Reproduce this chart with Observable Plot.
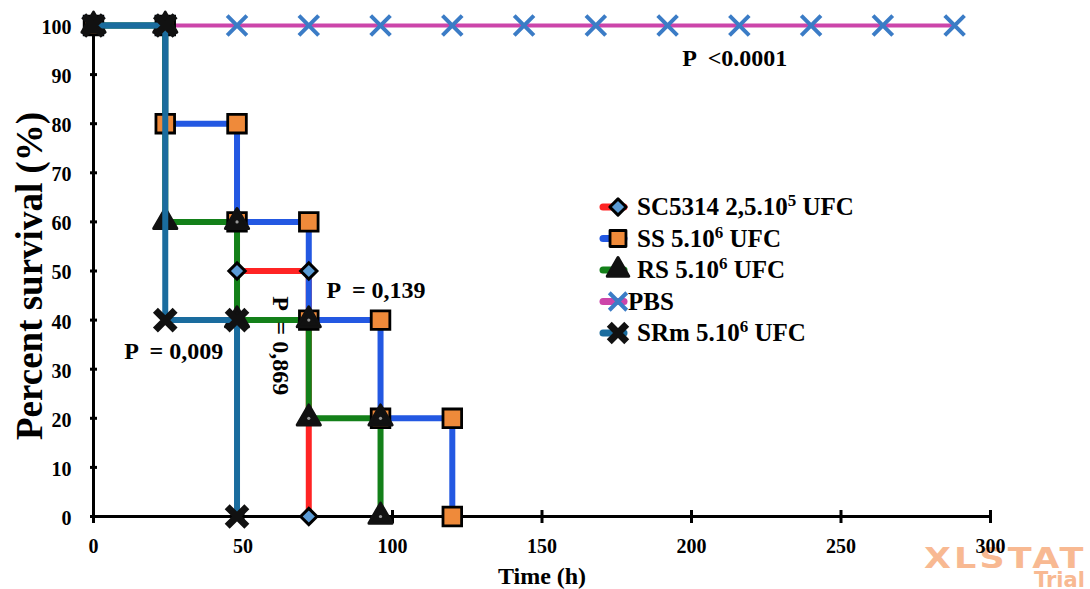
<!DOCTYPE html>
<html>
<head>
<meta charset="utf-8">
<script src="https://cdn.jsdelivr.net/npm/d3@7"></script>
<script src="https://cdn.jsdelivr.net/npm/@observablehq/plot@0.6"></script>
<style>
  html, body { margin: 0; padding: 0; background: #fff; }
  #chart svg { display: block; }
</style>
</head>
<body>
<div id="chart"></div>
<script>
// ---------- data ----------
const xTicks = [0, 50, 100, 150, 200, 250, 300];
const yTicks = [0, 10, 20, 30, 40, 50, 60, 70, 80, 90, 100];

const seriesNames = ["SC5314", "SS", "RS", "PBS", "SRm"];
const seriesColors = ["#ff2424", "#2358e2", "#138019", "#cc45aa", "#1a6c9e"];

const scTimes = [48, 72];
const scSurv = [50, 0];
const ssTimes = [0, 24, 48, 72, 96, 120];
const ssSurv = [100, 80, 60, 40, 20, 0];
const rsTimes = [0, 24, 48, 72, 96];
const rsSurv = [100, 60, 40, 20, 0];
const pbsTimes = [0, 24, 48, 72, 96, 120, 144, 168, 192, 216, 240, 264, 288];
const pbsSurv = [100, 100, 100, 100, 100, 100, 100, 100, 100, 100, 100, 100, 100];
const srmTimes = [0, 24, 48];
const srmSurv = [100, 40, 0];

const legendLabels = [
  ["SC5314 2,5.10", "5", " UFC"],
  ["SS 5.10", "6", " UFC"],
  ["RS 5.10", "6", " UFC"],
  ["PBS", "", ""],
  ["SRm 5.10", "6", " UFC"]
];

const annotations = [
  {text: "P  <0.0001", x: 214.5, y: 93.3, rotate: 0},
  {text: "P  = 0,139", x: 94.5, y: 46, rotate: 0},
  {text: "P  = 0,009", x: 26.8, y: 33.6, rotate: 0},
  {text: "P  = 0,869", x: 62.5, y: 34.8, rotate: 90}
];

// ---------- helpers ----------
function corners(times, surv) {
  const pts = [];
  for (let i = 0; i < times.length; i++) {
    pts.push({t: times[i], s: surv[i]});
    if (i < times.length - 1 && times[i + 1] !== times[i]) pts.push({t: times[i + 1], s: surv[i]});
  }
  return pts.filter((p, i, a) => i === 0 || p.t !== a[i - 1].t || p.s !== a[i - 1].s);
}
const sc = corners(scTimes, scSurv);
const ss = corners(ssTimes, ssSurv);
const rs = corners(rsTimes, rsSurv);
const pbs = corners(pbsTimes, pbsSurv);
const pbsPts = pbsTimes.map((t, i) => ({t, s: pbsSurv[i]}));
const srm = corners(srmTimes, srmSurv);

const diamond = {
  draw(ctx, size) {
    const h = Math.sqrt(size / 2);
    ctx.moveTo(0, -h); ctx.lineTo(h, 0); ctx.lineTo(0, h); ctx.lineTo(-h, 0); ctx.closePath();
  }
};
const vbar = { draw(ctx) { ctx.moveTo(0, -6.5); ctx.lineTo(0, 6.5); } };
const hbar = { draw(ctx) { ctx.moveTo(-3.5, 0); ctx.lineTo(3.5, 0); } };

const serif = "'Liberation Serif', 'Times New Roman', serif";

const chart = Plot.plot({
  width: 1090,
  height: 589,
  marginTop: 25,
  marginBottom: 73,
  marginLeft: 93,
  marginRight: 100,
  style: {fontFamily: serif, background: "white", overflow: "visible"},
  x: {domain: [0, 300], axis: null},
  y: {domain: [0, 100], axis: null},
  marks: [
    // axis lines
    Plot.ruleY([0], {stroke: "black", strokeWidth: 3}),
    Plot.ruleX([0], {stroke: "black", strokeWidth: 3}),
    // tick marks crossing the axes
    Plot.dot(xTicks, {x: d => d, frameAnchor: "bottom", symbol: vbar, stroke: "black", strokeWidth: 3, r: 6}),
    Plot.dot(yTicks, {y: d => d, frameAnchor: "left", symbol: hbar, stroke: "black", strokeWidth: 3, r: 3}),
    // tick labels
    Plot.text(xTicks, {x: d => d, frameAnchor: "bottom", dy: 30, lineAnchor: "middle", textAnchor: "middle", text: d => String(d), fontSize: 20, fontWeight: "bold", fill: "black"}),
    Plot.text(yTicks, {y: d => d, frameAnchor: "left", dx: -22, dy: 2, lineAnchor: "middle", textAnchor: "end", text: d => String(d), fontSize: 20, fontWeight: "bold", fill: "black"}),
    // axis titles
    Plot.text(["Percent survival (%)"], {frameAnchor: "left", dx: -63, dy: 5, rotate: -90, textAnchor: "middle", lineAnchor: "middle", fontSize: 37, fontWeight: "bold", fill: "black"}),
    Plot.text(["Time (h)"], {frameAnchor: "bottom", dy: 60, textAnchor: "middle", lineAnchor: "middle", fontSize: 24, fontWeight: "bold", fill: "black"}),

    // survival lines
    Plot.line(sc, {x: "t", y: "s", stroke: seriesColors[0], strokeWidth: 6, strokeLinejoin: "miter", strokeLinecap: "butt"}),
    Plot.line(ss, {x: "t", y: "s", stroke: seriesColors[1], strokeWidth: 6, strokeLinejoin: "miter", strokeLinecap: "butt"}),
    Plot.line(rs, {x: "t", y: "s", stroke: seriesColors[2], strokeWidth: 6, strokeLinejoin: "miter", strokeLinecap: "butt"}),
    Plot.line(pbs, {x: "t", y: "s", stroke: seriesColors[3], strokeWidth: 4}),
    // markers
    Plot.dot(pbsPts, {x: "t", y: "s", symbol: "times", r: 9, stroke: "#3b7cc6", strokeWidth: 4}),
    Plot.dot(ss, {x: "t", y: "s", symbol: "square", r: 10.5, fill: "#ef8a3a", stroke: "black", strokeWidth: 2.8}),
    Plot.dot(rs, {x: "t", y: "s", symbol: "triangle", r: 8.6, fill: "#111", stroke: "#111", strokeWidth: 3, strokeLinejoin: "round"}),
    Plot.dot(rs, {x: "t", y: "s", r: 1.6, fill: "#9a9a9a"}),
    Plot.dot(sc, {x: "t", y: "s", symbol: diamond, r: 6.5, fill: "#5b9bd5", stroke: "black", strokeWidth: 3}),
    // SRm line drawn over the other markers, then its markers
    Plot.line(srm, {x: "t", y: "s", stroke: seriesColors[4], strokeWidth: 6, strokeLinejoin: "miter", strokeLinecap: "butt"}),
    Plot.dot(srm, {x: "t", y: "s", symbol: "times", r: 9, stroke: "#111", strokeWidth: 7}),

    // p-value annotations
    Plot.text(annotations, {x: "x", y: "y", text: "text", rotate: "rotate", textAnchor: "middle", lineAnchor: "middle", fontSize: 24, fontWeight: "bold", fill: "black"})
  ]
});

document.getElementById("chart").appendChild(chart);

const svg = d3.select(chart);

// ---------- watermark (behind everything) ----------
const wm = svg.insert("g", ":first-child").attr("font-family", "'DejaVu Sans', sans-serif")
  .attr("font-weight", "bold").attr("fill", "#f8b992").attr("text-anchor", "start");
wm.append("text").attr("transform", "translate(924,568) scale(1.25,1)")
  .attr("font-size", 28).attr("letter-spacing", 2.5).text("XLSTAT");
wm.append("text").attr("x", 1034).attr("y", 587).attr("font-size", 21).text("Trial");

// ---------- legend (inside plot area) ----------
const lg = svg.append("g").attr("font-family", serif).attr("text-anchor", "start");
const lx = 600, ly0 = 207, ldy = 31.5;
const legendSymbols = [
  {sym: diamond, size: Math.PI * 6.5 * 6.5, fill: "#5b9bd5", stroke: "black", sw: 3},
  {sym: d3.symbolSquare, size: Math.PI * 9 * 9, fill: "#ef8a3a", stroke: "black", sw: 2.8},
  {sym: d3.symbolTriangle, size: Math.PI * 8 * 8, fill: "#111", stroke: "#111", sw: 3},
  {sym: d3.symbolTimes, size: Math.PI * 8 * 8, fill: "none", stroke: "#3b7cc6", sw: 4},
  {sym: d3.symbolTimes, size: Math.PI * 8 * 8, fill: "none", stroke: "#111", sw: 7}
];
legendLabels.forEach((lab, i) => {
  const y = ly0 + i * ldy;
  lg.append("line").attr("x1", lx + 3).attr("x2", lx + 24).attr("y1", y).attr("y2", y)
    .attr("stroke", seriesColors[i]).attr("stroke-width", 7).attr("stroke-linecap", "round");
  const s = legendSymbols[i];
  lg.append("path").attr("d", d3.symbol(s.sym, s.size)())
    .attr("transform", `translate(${lx + 18},${y})`)
    .attr("fill", s.fill).attr("stroke", s.stroke).attr("stroke-width", s.sw).attr("stroke-linejoin", "round");
  const t = lg.append("text").attr("x", i === 3 ? lx + 28 : lx + 37).attr("y", y + 8)
    .attr("font-size", 25).attr("font-weight", "bold").attr("fill", "black");
  t.append("tspan").text(lab[0]);
  if (lab[1]) t.append("tspan").attr("dy", -9).attr("font-size", 17).text(lab[1]);
  if (lab[2]) t.append("tspan").attr("dy", 9).text(lab[2]);
});
</script>
</body>
</html>
